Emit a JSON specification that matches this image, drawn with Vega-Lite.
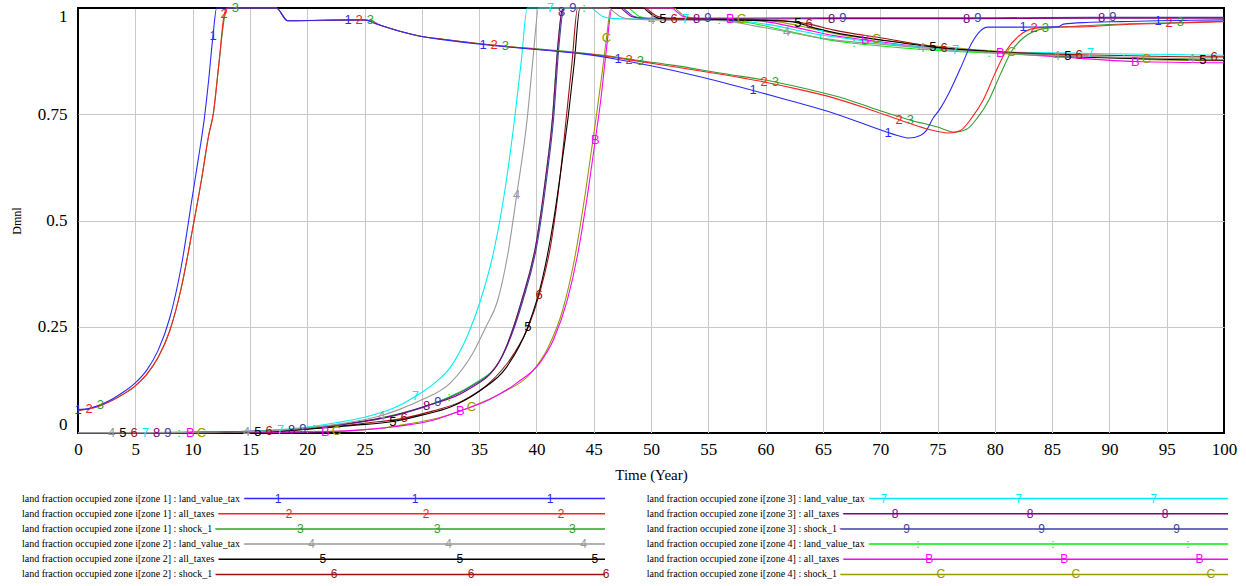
{
"$schema": "https://vega.github.io/schema/vega-lite/v6.json",
"padding": {"left": 9, "top": 1, "right": 0, "bottom": 2},
"background": "white",
"config": {"view": {"stroke": null}, "font": "Liberation Serif"},
"datasets": {
"series": [
{"s":"1","name":"land fraction occupied zone i[zone 1] : land_value_tax"},
{"s":"2","name":"land fraction occupied zone i[zone 1] : all_taxes"},
{"s":"3","name":"land fraction occupied zone i[zone 1] : shock_1"},
{"s":"4","name":"land fraction occupied zone i[zone 2] : land_value_tax"},
{"s":"5","name":"land fraction occupied zone i[zone 2] : all_taxes"},
{"s":"6","name":"land fraction occupied zone i[zone 2] : shock_1"},
{"s":"7","name":"land fraction occupied zone i[zone 3] : land_value_tax"},
{"s":"8","name":"land fraction occupied zone i[zone 3] : all_taxes"},
{"s":"9","name":"land fraction occupied zone i[zone 3] : shock_1"},
{"s":":","name":"land fraction occupied zone i[zone 4] : land_value_tax"},
{"s":"B","name":"land fraction occupied zone i[zone 4] : all_taxes"},
{"s":"C","name":"land fraction occupied zone i[zone 4] : shock_1"}
],
"lines": [
{"s":"C","t":0,"v":0.001},{"s":"C","t":10.78,"v":0.001},{"s":"C","t":15,"v":0.002},{"s":"C","t":18,"v":0.003},{"s":"C","t":22.56,"v":0.004},{"s":"C","t":26,"v":0.01},{"s":"C","t":29,"v":0.022},{"s":"C","t":31.5,"v":0.036},{"s":"C","t":34.34,"v":0.062},{"s":"C","t":37,"v":0.095},{"s":"C","t":39.5,"v":0.14},{"s":"C","t":41,"v":0.2},{"s":"C","t":42.3,"v":0.29},{"s":"C","t":43.4,"v":0.42},{"s":"C","t":44.3,"v":0.57},{"s":"C","t":45.2,"v":0.74},{"s":"C","t":45.7,"v":0.84},{"s":"C","t":46.12,"v":0.93},{"s":"C","t":46.5,"v":1},{"s":"C","t":52,"v":1},{"s":"C","t":52.5,"v":0.99},{"s":"C","t":53,"v":0.98},{"s":"C","t":54.3,"v":0.976},{"s":"C","t":57.9,"v":0.975},{"s":"C","t":61,"v":0.968},{"s":"C","t":64,"v":0.952},{"s":"C","t":66.5,"v":0.937},{"s":"C","t":69.68,"v":0.926},{"s":"C","t":75,"v":0.91},{"s":"C","t":81.46,"v":0.896},{"s":"C","t":87,"v":0.888},{"s":"C","t":93.24,"v":0.879},{"s":"C","t":100,"v":0.876},
{"s":"B","t":0,"v":0.001},{"s":"B","t":9.8,"v":0.001},{"s":"B","t":15,"v":0.002},{"s":"B","t":18,"v":0.002},{"s":"B","t":21.58,"v":0.003},{"s":"B","t":25,"v":0.008},{"s":"B","t":28,"v":0.016},{"s":"B","t":31,"v":0.03},{"s":"B","t":33.36,"v":0.052},{"s":"B","t":36,"v":0.08},{"s":"B","t":38.3,"v":0.118},{"s":"B","t":40.3,"v":0.165},{"s":"B","t":41.5,"v":0.22},{"s":"B","t":42.7,"v":0.313},{"s":"B","t":43.6,"v":0.42},{"s":"B","t":44.4,"v":0.55},{"s":"B","t":45.14,"v":0.69},{"s":"B","t":45.6,"v":0.78},{"s":"B","t":46.1,"v":0.9},{"s":"B","t":46.6,"v":1},{"s":"B","t":51.8,"v":1},{"s":"B","t":52.3,"v":0.99},{"s":"B","t":52.8,"v":0.98},{"s":"B","t":54,"v":0.975},{"s":"B","t":56.92,"v":0.973},{"s":"B","t":60,"v":0.968},{"s":"B","t":63,"v":0.952},{"s":"B","t":66,"v":0.935},{"s":"B","t":68.7,"v":0.925},{"s":"B","t":74,"v":0.907},{"s":"B","t":80.48,"v":0.894},{"s":"B","t":86,"v":0.884},{"s":"B","t":92.26,"v":0.874},{"s":"B","t":100,"v":0.871},
{"s":":","t":0,"v":0.001},{"s":":","t":8.82,"v":0.001},{"s":":","t":13,"v":0.002},{"s":":","t":16,"v":0.004},{"s":":","t":20.6,"v":0.012},{"s":":","t":23,"v":0.02},{"s":":","t":26,"v":0.033},{"s":":","t":29,"v":0.052},{"s":":","t":32.38,"v":0.085},{"s":":","t":34.5,"v":0.115},{"s":":","t":36.8,"v":0.17},{"s":":","t":38.7,"v":0.31},{"s":":","t":40,"v":0.45},{"s":":","t":40.8,"v":0.6},{"s":":","t":41.4,"v":0.74},{"s":":","t":41.9,"v":0.92},{"s":":","t":42.3,"v":1},{"s":":","t":44.16,"v":1},{"s":":","t":48,"v":1},{"s":":","t":48.5,"v":0.99},{"s":":","t":49,"v":0.98},{"s":":","t":50,"v":0.975},{"s":":","t":55.94,"v":0.972},{"s":":","t":58.4,"v":0.966},{"s":":","t":62,"v":0.945},{"s":":","t":66.2,"v":0.922},{"s":":","t":67.72,"v":0.917},{"s":":","t":72,"v":0.906},{"s":":","t":79.5,"v":0.894},{"s":":","t":85,"v":0.888},{"s":":","t":91.28,"v":0.883},{"s":":","t":100,"v":0.879},
{"s":"9","t":0,"v":0.001},{"s":"9","t":7.84,"v":0.001},{"s":"9","t":12,"v":0.002},{"s":"9","t":15,"v":0.004},{"s":"9","t":19.62,"v":0.01},{"s":"9","t":22,"v":0.016},{"s":"9","t":25,"v":0.027},{"s":"9","t":28,"v":0.043},{"s":"9","t":31.4,"v":0.073},{"s":"9","t":34,"v":0.105},{"s":"9","t":36.8,"v":0.17},{"s":"9","t":38.8,"v":0.31},{"s":"9","t":40.1,"v":0.45},{"s":"9","t":40.9,"v":0.6},{"s":"9","t":41.5,"v":0.74},{"s":"9","t":42,"v":0.92},{"s":"9","t":42.4,"v":1},{"s":"9","t":43.18,"v":1},{"s":"9","t":47.5,"v":1},{"s":"9","t":48,"v":0.99},{"s":"9","t":48.5,"v":0.98},{"s":"9","t":49.5,"v":0.976},{"s":"9","t":54.96,"v":0.976},{"s":"9","t":66.74,"v":0.977},{"s":"9","t":78.52,"v":0.977},{"s":"9","t":90.3,"v":0.978},{"s":"9","t":100,"v":0.978},
{"s":"8","t":0,"v":0.001},{"s":"8","t":6.86,"v":0.001},{"s":"8","t":12,"v":0.002},{"s":"8","t":15,"v":0.004},{"s":"8","t":18.64,"v":0.008},{"s":"8","t":21,"v":0.014},{"s":"8","t":24,"v":0.024},{"s":"8","t":27,"v":0.038},{"s":"8","t":30.42,"v":0.064},{"s":"8","t":33.9,"v":0.1},{"s":"8","t":36.8,"v":0.17},{"s":"8","t":38.7,"v":0.31},{"s":"8","t":40,"v":0.45},{"s":"8","t":40.8,"v":0.6},{"s":"8","t":41.4,"v":0.74},{"s":"8","t":41.9,"v":0.92},{"s":"8","t":42.2,"v":0.99},{"s":"8","t":42.4,"v":1},{"s":"8","t":47.3,"v":1},{"s":"8","t":47.8,"v":0.99},{"s":"8","t":48.3,"v":0.98},{"s":"8","t":49.3,"v":0.975},{"s":"8","t":53.98,"v":0.974},{"s":"8","t":60,"v":0.974},{"s":"8","t":65.76,"v":0.975},{"s":"8","t":77.54,"v":0.975},{"s":"8","t":89.32,"v":0.976},{"s":"8","t":100,"v":0.976},
{"s":"7","t":0,"v":0.001},{"s":"7","t":5.88,"v":0.001},{"s":"7","t":11,"v":0.002},{"s":"7","t":14,"v":0.003},{"s":"7","t":17.66,"v":0.008},{"s":"7","t":20,"v":0.014},{"s":"7","t":22.5,"v":0.024},{"s":"7","t":25,"v":0.037},{"s":"7","t":27.5,"v":0.058},{"s":"7","t":29.44,"v":0.086},{"s":"7","t":31,"v":0.115},{"s":"7","t":32.5,"v":0.155},{"s":"7","t":34,"v":0.23},{"s":"7","t":35.1,"v":0.31},{"s":"7","t":36.3,"v":0.43},{"s":"7","t":37.3,"v":0.58},{"s":"7","t":38.1,"v":0.74},{"s":"7","t":38.7,"v":0.88},{"s":"7","t":39.2,"v":1},{"s":"7","t":41.22,"v":1},{"s":"7","t":44.8,"v":1},{"s":"7","t":45.3,"v":0.99},{"s":"7","t":45.8,"v":0.98},{"s":"7","t":46.8,"v":0.975},{"s":"7","t":53,"v":0.973},{"s":"7","t":57,"v":0.971},{"s":"7","t":60,"v":0.962},{"s":"7","t":64.78,"v":0.937},{"s":"7","t":68,"v":0.925},{"s":"7","t":72,"v":0.912},{"s":"7","t":76.56,"v":0.901},{"s":"7","t":82,"v":0.896},{"s":"7","t":88.34,"v":0.893},{"s":"7","t":94,"v":0.891},{"s":"7","t":100,"v":0.889},
{"s":"6","t":0,"v":0.001},{"s":"6","t":4.9,"v":0.001},{"s":"6","t":10,"v":0.001},{"s":"6","t":13,"v":0.002},{"s":"6","t":16.68,"v":0.004},{"s":"6","t":19,"v":0.007},{"s":"6","t":22,"v":0.014},{"s":"6","t":25,"v":0.023},{"s":"6","t":28.46,"v":0.035},{"s":"6","t":31,"v":0.052},{"s":"6","t":33.5,"v":0.075},{"s":"6","t":36,"v":0.12},{"s":"6","t":38,"v":0.185},{"s":"6","t":39.3,"v":0.25},{"s":"6","t":40.24,"v":0.325},{"s":"6","t":41.3,"v":0.45},{"s":"6","t":42.1,"v":0.61},{"s":"6","t":42.6,"v":0.74},{"s":"6","t":43.1,"v":0.87},{"s":"6","t":43.6,"v":1},{"s":"6","t":49.5,"v":1},{"s":"6","t":50,"v":0.99},{"s":"6","t":50.6,"v":0.98},{"s":"6","t":52.02,"v":0.975},{"s":"6","t":57,"v":0.973},{"s":"6","t":61,"v":0.971},{"s":"6","t":63.8,"v":0.962},{"s":"6","t":66,"v":0.948},{"s":"6","t":70,"v":0.93},{"s":"6","t":75.58,"v":0.906},{"s":"6","t":81,"v":0.896},{"s":"6","t":87.36,"v":0.89},{"s":"6","t":93,"v":0.887},{"s":"6","t":99.14,"v":0.885},{"s":"6","t":100,"v":0.885},
{"s":"5","t":0,"v":0.001},{"s":"5","t":3.92,"v":0.001},{"s":"5","t":9,"v":0.001},{"s":"5","t":13,"v":0.002},{"s":"5","t":15.7,"v":0.003},{"s":"5","t":18,"v":0.005},{"s":"5","t":20,"v":0.009},{"s":"5","t":24,"v":0.018},{"s":"5","t":27.48,"v":0.027},{"s":"5","t":30,"v":0.042},{"s":"5","t":32.5,"v":0.061},{"s":"5","t":35.1,"v":0.1},{"s":"5","t":37.4,"v":0.155},{"s":"5","t":39.26,"v":0.25},{"s":"5","t":40.5,"v":0.36},{"s":"5","t":41.5,"v":0.5},{"s":"5","t":42.3,"v":0.65},{"s":"5","t":42.8,"v":0.75},{"s":"5","t":43.3,"v":0.87},{"s":"5","t":43.8,"v":1},{"s":"5","t":49.3,"v":1},{"s":"5","t":49.8,"v":0.99},{"s":"5","t":50.3,"v":0.98},{"s":"5","t":51.04,"v":0.974},{"s":"5","t":56,"v":0.972},{"s":"5","t":61,"v":0.97},{"s":"5","t":62.82,"v":0.965},{"s":"5","t":64,"v":0.955},{"s":"5","t":66,"v":0.942},{"s":"5","t":70,"v":0.925},{"s":"5","t":74.6,"v":0.908},{"s":"5","t":80,"v":0.897},{"s":"5","t":86.38,"v":0.886},{"s":"5","t":92,"v":0.881},{"s":"5","t":98.16,"v":0.878},{"s":"5","t":100,"v":0.877},
{"s":"4","t":0,"v":0.001},{"s":"4","t":2.94,"v":0.001},{"s":"4","t":8,"v":0.001},{"s":"4","t":12,"v":0.002},{"s":"4","t":14.72,"v":0.003},{"s":"4","t":17,"v":0.005},{"s":"4","t":20,"v":0.012},{"s":"4","t":23,"v":0.022},{"s":"4","t":26.5,"v":0.041},{"s":"4","t":28,"v":0.055},{"s":"4","t":30,"v":0.078},{"s":"4","t":32.5,"v":0.118},{"s":"4","t":34.5,"v":0.19},{"s":"4","t":35.6,"v":0.25},{"s":"4","t":36.6,"v":0.31},{"s":"4","t":37.5,"v":0.42},{"s":"4","t":38.28,"v":0.56},{"s":"4","t":39.2,"v":0.74},{"s":"4","t":39.7,"v":0.88},{"s":"4","t":40.2,"v":1},{"s":"4","t":46.3,"v":1},{"s":"4","t":46.8,"v":0.99},{"s":"4","t":47.3,"v":0.98},{"s":"4","t":48.2,"v":0.974},{"s":"4","t":50.06,"v":0.972},{"s":"4","t":55,"v":0.971},{"s":"4","t":57,"v":0.968},{"s":"4","t":59,"v":0.958},{"s":"4","t":61.84,"v":0.944},{"s":"4","t":64,"v":0.933},{"s":"4","t":66,"v":0.925},{"s":"4","t":70,"v":0.915},{"s":"4","t":73.62,"v":0.906},{"s":"4","t":78,"v":0.898},{"s":"4","t":82,"v":0.892},{"s":"4","t":85.4,"v":0.888},{"s":"4","t":90,"v":0.885},{"s":"4","t":97.18,"v":0.88},{"s":"4","t":100,"v":0.879},
{"s":"3","t":0,"v":0.053},{"s":"3","t":1,"v":0.057},{"s":"3","t":1.96,"v":0.065},{"s":"3","t":3,"v":0.077},{"s":"3","t":4,"v":0.092},{"s":"3","t":5,"v":0.111},{"s":"3","t":6,"v":0.138},{"s":"3","t":7,"v":0.178},{"s":"3","t":8,"v":0.24},{"s":"3","t":9,"v":0.34},{"s":"3","t":10,"v":0.48},{"s":"3","t":10.8,"v":0.6},{"s":"3","t":11.4,"v":0.7},{"s":"3","t":11.8,"v":0.75},{"s":"3","t":12.3,"v":0.87},{"s":"3","t":12.8,"v":0.98},{"s":"3","t":13.1,"v":1},{"s":"3","t":13.74,"v":1},{"s":"3","t":17.3,"v":1},{"s":"3","t":18.3,"v":0.97},{"s":"3","t":25.52,"v":0.971},{"s":"3","t":26.2,"v":0.962},{"s":"3","t":27,"v":0.954},{"s":"3","t":28,"v":0.946},{"s":"3","t":30,"v":0.933},{"s":"3","t":32,"v":0.926},{"s":"3","t":37.3,"v":0.91},{"s":"3","t":40,"v":0.904},{"s":"3","t":44,"v":0.894},{"s":"3","t":46,"v":0.888},{"s":"3","t":49.08,"v":0.876},{"s":"3","t":52,"v":0.865},{"s":"3","t":56,"v":0.847},{"s":"3","t":60.86,"v":0.826},{"s":"3","t":64,"v":0.807},{"s":"3","t":67,"v":0.786},{"s":"3","t":70,"v":0.758},{"s":"3","t":72.64,"v":0.736},{"s":"3","t":75,"v":0.72},{"s":"3","t":76.5,"v":0.708},{"s":"3","t":77.5,"v":0.714},{"s":"3","t":78.5,"v":0.742},{"s":"3","t":79.5,"v":0.784},{"s":"3","t":80.5,"v":0.845},{"s":"3","t":81.5,"v":0.9},{"s":"3","t":82.5,"v":0.93},{"s":"3","t":84.42,"v":0.952},{"s":"3","t":87,"v":0.957},{"s":"3","t":90,"v":0.961},{"s":"3","t":96.2,"v":0.966},{"s":"3","t":100,"v":0.969},
{"s":"2","t":0,"v":0.053},{"s":"2","t":0.98,"v":0.057},{"s":"2","t":2,"v":0.065},{"s":"2","t":3,"v":0.077},{"s":"2","t":4,"v":0.092},{"s":"2","t":5,"v":0.111},{"s":"2","t":6,"v":0.138},{"s":"2","t":7,"v":0.178},{"s":"2","t":8,"v":0.24},{"s":"2","t":9,"v":0.34},{"s":"2","t":10,"v":0.48},{"s":"2","t":10.8,"v":0.6},{"s":"2","t":11.4,"v":0.7},{"s":"2","t":11.8,"v":0.75},{"s":"2","t":12.3,"v":0.87},{"s":"2","t":12.76,"v":0.985},{"s":"2","t":13,"v":1},{"s":"2","t":17.3,"v":1},{"s":"2","t":18.3,"v":0.97},{"s":"2","t":24.54,"v":0.972},{"s":"2","t":25.2,"v":0.971},{"s":"2","t":26,"v":0.963},{"s":"2","t":27,"v":0.954},{"s":"2","t":28,"v":0.946},{"s":"2","t":30,"v":0.933},{"s":"2","t":32,"v":0.926},{"s":"2","t":36.32,"v":0.912},{"s":"2","t":40,"v":0.903},{"s":"2","t":44,"v":0.893},{"s":"2","t":46,"v":0.887},{"s":"2","t":48.1,"v":0.878},{"s":"2","t":51,"v":0.866},{"s":"2","t":55,"v":0.849},{"s":"2","t":59.88,"v":0.826},{"s":"2","t":63,"v":0.808},{"s":"2","t":66,"v":0.788},{"s":"2","t":69,"v":0.762},{"s":"2","t":71.66,"v":0.737},{"s":"2","t":74,"v":0.716},{"s":"2","t":76,"v":0.706},{"s":"2","t":77,"v":0.712},{"s":"2","t":78,"v":0.742},{"s":"2","t":79,"v":0.784},{"s":"2","t":80,"v":0.845},{"s":"2","t":81,"v":0.9},{"s":"2","t":82,"v":0.932},{"s":"2","t":83.44,"v":0.952},{"s":"2","t":85,"v":0.955},{"s":"2","t":88,"v":0.956},{"s":"2","t":90.5,"v":0.96},{"s":"2","t":95.22,"v":0.964},{"s":"2","t":100,"v":0.968},
{"s":"1","t":0,"v":0.055},{"s":"1","t":1,"v":0.058},{"s":"1","t":2,"v":0.067},{"s":"1","t":3,"v":0.08},{"s":"1","t":4,"v":0.097},{"s":"1","t":5,"v":0.118},{"s":"1","t":6,"v":0.148},{"s":"1","t":7,"v":0.195},{"s":"1","t":8,"v":0.27},{"s":"1","t":9,"v":0.39},{"s":"1","t":10,"v":0.56},{"s":"1","t":10.5,"v":0.645},{"s":"1","t":11,"v":0.735},{"s":"1","t":11.4,"v":0.83},{"s":"1","t":11.78,"v":0.935},{"s":"1","t":12.1,"v":1},{"s":"1","t":17.3,"v":1},{"s":"1","t":18.3,"v":0.97},{"s":"1","t":23.56,"v":0.972},{"s":"1","t":25,"v":0.972},{"s":"1","t":26,"v":0.963},{"s":"1","t":27,"v":0.954},{"s":"1","t":28,"v":0.946},{"s":"1","t":30,"v":0.933},{"s":"1","t":32,"v":0.925},{"s":"1","t":35.34,"v":0.914},{"s":"1","t":38,"v":0.907},{"s":"1","t":41,"v":0.9},{"s":"1","t":44,"v":0.892},{"s":"1","t":47.12,"v":0.879},{"s":"1","t":50,"v":0.864},{"s":"1","t":54,"v":0.84},{"s":"1","t":58.9,"v":0.806},{"s":"1","t":62,"v":0.783},{"s":"1","t":66,"v":0.752},{"s":"1","t":70.68,"v":0.707},{"s":"1","t":71.5,"v":0.7},{"s":"1","t":72.5,"v":0.694},{"s":"1","t":73.5,"v":0.7},{"s":"1","t":74,"v":0.711},{"s":"1","t":74.6,"v":0.74},{"s":"1","t":75.2,"v":0.762},{"s":"1","t":76,"v":0.8},{"s":"1","t":77,"v":0.858},{"s":"1","t":78,"v":0.918},{"s":"1","t":78.7,"v":0.945},{"s":"1","t":79.4,"v":0.955},{"s":"1","t":82.46,"v":0.955},{"s":"1","t":85.5,"v":0.956},{"s":"1","t":86,"v":0.962},{"s":"1","t":88,"v":0.966},{"s":"1","t":91,"v":0.968},{"s":"1","t":94.24,"v":0.97},{"s":"1","t":97,"v":0.971},{"s":"1","t":100,"v":0.972}
]
},
"spacing": 8,
"vconcat": [
{
"width": 1146,
"height": 425,
"view": {"stroke": "#000000", "strokeWidth": 2},
"data": {"name": "lines"},
"layer": [
{
"mark": {"type": "line", "strokeWidth": 1.1, "interpolate": "monotone"},
"encoding": {
"x": {"field": "t", "type": "quantitative",
"scale": {"domain": [0, 100], "nice": false, "zero": false},
"axis": {"values": [0,5,10,15,20,25,30,35,40,45,50,55,60,65,70,75,80,85,90,95,100], "format": "d", "grid": true,
"gridColor": {"condition": {"test": "datum.value == 0 || datum.value == 100", "value": "#000000"}, "value": "#c8c8c8"},
"gridWidth": 1, "ticks": false, "domain": false, "labelFlush": false, "labelOverlap": false,
"labelFont": "Liberation Serif", "labelFontSize": 17, "labelColor": "#000000", "labelPadding": 8,
"title": "Time (Year)", "titleFont": "Liberation Serif", "titleFontSize": 15, "titleFontWeight": "normal", "titleColor": "#000000", "titlePadding": 10}},
"y": {"field": "v", "type": "quantitative",
"scale": {"domain": [0, 1], "nice": false, "zero": false},
"axis": {"values": [0, 0.25, 0.5, 0.75, 1], "format": ".2~f", "grid": true,
"gridColor": {"condition": {"test": "datum.value == 0 || datum.value == 1", "value": "#000000"}, "value": "#c8c8c8"},
"gridWidth": 1, "ticks": false, "domain": false, "labelFlush": true, "labelOverlap": false,
"labelFont": "Liberation Serif", "labelFontSize": 17, "labelColor": "#000000", "labelPadding": 11,
"title": "Dmnl", "titleFont": "Liberation Serif", "titleFontSize": 12, "titleFontWeight": "normal", "titleColor": "#000000", "titlePadding": 13.5}},
"color": {"field": "s", "type": "nominal",
"scale": {"domain": ["1","2","3","4","5","6","7","8","9",":","B","C"],
"range": ["#2a2aff","#ff2020","#2f9f2f","#999999","#000000","#a01010","#00f0f0","#800080","#4040a0","#00ee00","#ff00ff","#999900"]},
"legend": null}
}
},
{
"transform": [{"filter": "abs((datum.t - 0.98*indexof('123456789:BC', datum.s))/11.78 - round((datum.t - 0.98*indexof('123456789:BC', datum.s))/11.78)) < 0.002"}],
"mark": {"type": "text", "font": "Liberation Sans", "fontSize": 13, "align": "center", "baseline": "middle"},
"encoding": {
"x": {"field": "t", "type": "quantitative"},
"y": {"field": "v", "type": "quantitative"},
"text": {"field": "s"},
"color": {"field": "s", "type": "nominal"}
}
}
]
},
{
"spacing": 31,
"hconcat": [
{
"width": 527,
"height": 91,
"data": {"name": "series"},
"transform": [{"filter": {"field": "s", "oneOf": ["1","2","3","4","5","6"]}}],
"encoding": {"y": {"field": "s", "type": "nominal", "scale": {"type": "point", "padding": 0.5}, "axis": null}},
"layer": [
{"mark": {"type": "rule", "strokeWidth": 1.5},
"encoding": {"x": {"datum": -0.1063, "scale": {"domain": [0, 1], "nice": false, "zero": false}, "axis": null}, "x2": {"datum": 1}, "color": {"field": "s", "type": "nominal", "legend": null}}},
{"mark": {"type": "text", "align": "left", "baseline": "middle", "font": "Liberation Serif", "fontSize": 10, "fill": "white", "stroke": "white", "strokeWidth": 9, "strokeJoin": "round"},
"encoding": {"x": {"datum": -0.1063}, "text": {"field": "name"}}},
{"mark": {"type": "text", "align": "left", "baseline": "middle", "font": "Liberation Serif", "fontSize": 10, "fill": "#000000"},
"encoding": {"x": {"datum": -0.1063}, "text": {"field": "name"}}},
{"mark": {"type": "text", "align": "center", "baseline": "middle", "font": "Liberation Sans", "fontSize": 12, "dx": {"expr": "11.2*indexof('123456789:BC', datum.s)"}},
"encoding": {"x": {"datum": 0.3795}, "text": {"field": "s"}, "color": {"field": "s", "type": "nominal"}}},
{"mark": {"type": "text", "align": "center", "baseline": "middle", "font": "Liberation Sans", "fontSize": 12, "dx": {"expr": "11.2*indexof('123456789:BC', datum.s)"}},
"encoding": {"x": {"datum": 0.6395}, "text": {"field": "s"}, "color": {"field": "s", "type": "nominal"}}},
{"mark": {"type": "text", "align": "center", "baseline": "middle", "font": "Liberation Sans", "fontSize": 12, "dx": {"expr": "11.2*indexof('123456789:BC', datum.s)"}},
"encoding": {"x": {"datum": 0.8956}, "text": {"field": "s"}, "color": {"field": "s", "type": "nominal"}}}
]
},
{
"width": 587,
"height": 91,
"data": {"name": "series"},
"transform": [{"filter": {"field": "s", "oneOf": ["7","8","9",":","B","C"]}}],
"encoding": {"y": {"field": "s", "type": "nominal", "scale": {"type": "point", "padding": 0.5}, "axis": null}},
"layer": [
{"mark": {"type": "rule", "strokeWidth": 1.5},
"encoding": {"x": {"datum": 0, "scale": {"domain": [-0.01, 1], "nice": false, "zero": false}, "axis": null}, "x2": {"datum": 1}, "color": {"field": "s", "type": "nominal", "legend": null}}},
{"mark": {"type": "text", "align": "left", "baseline": "middle", "font": "Liberation Serif", "fontSize": 10, "fill": "white", "stroke": "white", "strokeWidth": 9, "strokeJoin": "round"},
"encoding": {"x": {"datum": 0}, "text": {"field": "name"}}},
{"mark": {"type": "text", "align": "left", "baseline": "middle", "font": "Liberation Serif", "fontSize": 10, "fill": "#000000"},
"encoding": {"x": {"datum": 0}, "text": {"field": "name"}}},
{"mark": {"type": "text", "align": "center", "baseline": "middle", "font": "Liberation Sans", "fontSize": 12, "dx": {"expr": "11.4*(indexof('123456789:BC', datum.s) - 6)"}},
"encoding": {"x": {"datum": 0.4077}, "text": {"field": "s"}, "color": {"field": "s", "type": "nominal"}}},
{"mark": {"type": "text", "align": "center", "baseline": "middle", "font": "Liberation Sans", "fontSize": 12, "dx": {"expr": "11.4*(indexof('123456789:BC', datum.s) - 6)"}},
"encoding": {"x": {"datum": 0.640}, "text": {"field": "s"}, "color": {"field": "s", "type": "nominal"}}},
{"mark": {"type": "text", "align": "center", "baseline": "middle", "font": "Liberation Sans", "fontSize": 12, "dx": {"expr": "11.4*(indexof('123456789:BC', datum.s) - 6)"}},
"encoding": {"x": {"datum": 0.8723}, "text": {"field": "s"}, "color": {"field": "s", "type": "nominal"}}}
]
}
]
}
]
}
